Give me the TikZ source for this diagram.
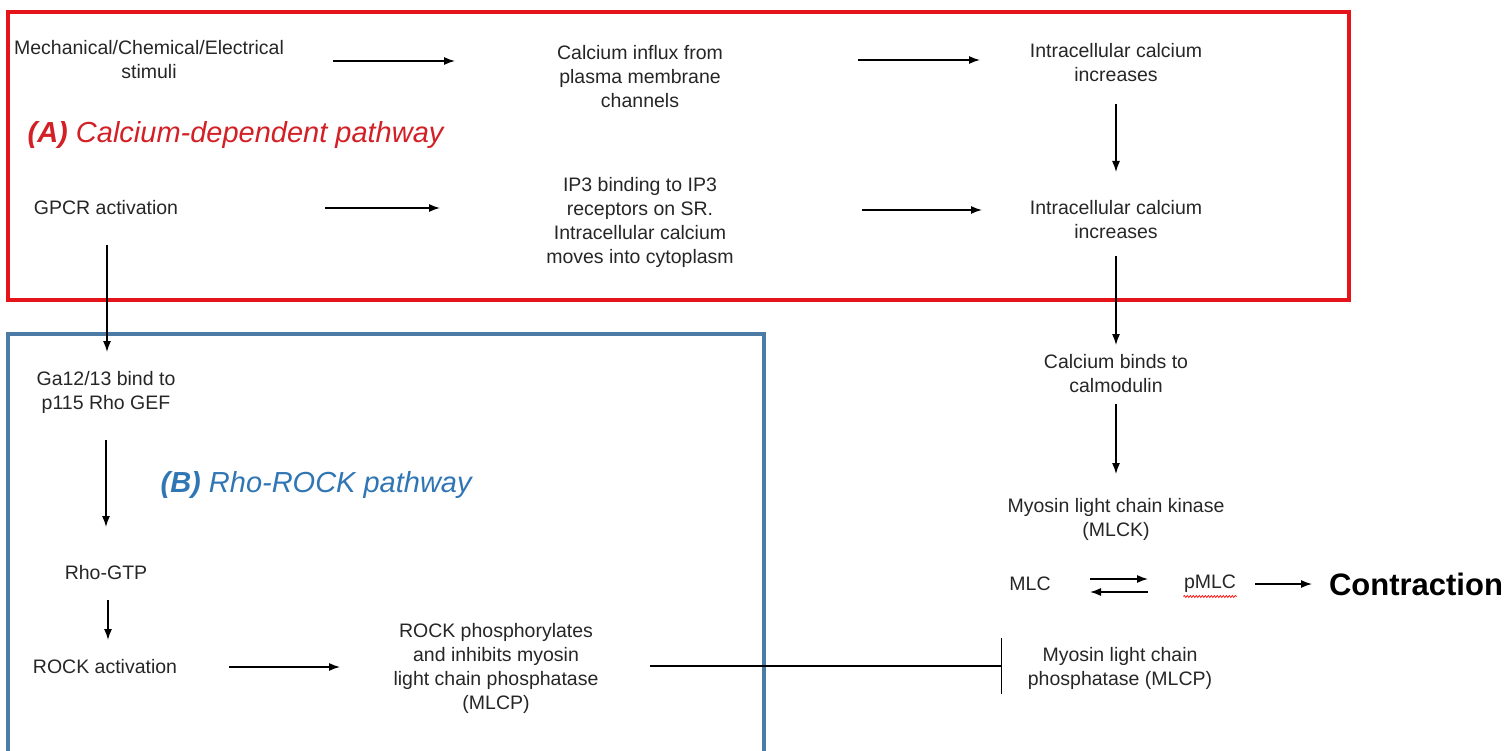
\documentclass[tikz,border=0pt]{standalone}
\usepackage{fontspec}
\setmainfont{Liberation Sans}
\usetikzlibrary{arrows.meta,calc,decorations.pathmorphing}

\definecolor{boxred}{RGB}{228,20,26}
\definecolor{boxblue}{RGB}{76,124,166}
\definecolor{labred}{RGB}{210,32,38}
\definecolor{labblue}{RGB}{48,118,180}
\definecolor{txtgray}{RGB}{38,38,38}

\begin{document}
\begin{tikzpicture}[x=1pt,y=-1pt,line width=1.3pt]
    \tikzstyle{txt}=[align=center, inner sep=0pt, text=txtgray, font=\fontsize{19.5}{24}\selectfont]
    \tikzstyle{lab}=[anchor=west, inner sep=0pt, font=\fontsize{29}{34}\selectfont\itshape]
    \tikzstyle{flow}=[-{Latex[length=11pt,width=8pt]}, black]
    \tikzstyle{frame}=[line width=3.5pt]

    \useasboundingbox (0,0) rectangle (1507,751);

    % pathway frames
    \draw[frame, boxred] (8,12) rectangle (1349,300);
    \draw[frame, boxblue] (8,751) -- (8,334) -- (764,334) -- (764,751);

    % calcium-dependent pathway
    \node[txt] (mech)   at (149,60)  {Mechanical/Chemical/Electrical\\stimuli};
    \node[txt] (influx) at (640,77)  {Calcium influx from\\plasma membrane\\channels};
    \node[txt] (inc1)   at (1116,63) {Intracellular calcium\\increases};
    \node[txt] (gpcr)   at (106,208) {GPCR activation};
    \node[txt] (ip3)    at (640,222) {IP3 binding to IP3\\receptors on SR.\\Intracellular calcium\\moves into cytoplasm};
    \node[txt] (inc2)   at (1116,220) {Intracellular calcium\\increases};
    \node[txt] (cam)    at (1116,374) {Calcium binds to\\calmodulin};
    \node[txt] (mlck)   at (1116,519) {Myosin light chain kinase\\(MLCK)};
    \node[txt] (mlc)    at (1030,584) {MLC};
    \node[txt] (pmlc)   at (1210,584) {pMLC};
    \node[txt, font=\fontsize{31}{34}\selectfont\bfseries, text=black] (contr) at (1416,584) {Contraction};
    \node[txt] (mlcp)   at (1120,668) {Myosin light chain\\phosphatase (MLCP)};

    % Rho-ROCK pathway
    \node[txt] (ga)     at (106,392) {Ga12/13 bind to\\p115 Rho GEF};
    \node[txt] (rhogtp) at (106,573) {Rho-GTP};
    \node[txt] (rocka)  at (105,667) {ROCK activation};
    \node[txt] (rockp)  at (496,668) {ROCK phosphorylates\\and inhibits myosin\\light chain phosphatase\\(MLCP)};

    \node[lab, text=labred]  (labA) at (27,135)  {\textbf{(A)} Calcium-dependent pathway};
    \node[lab, text=labblue] (labB) at (160,485) {\textbf{(B)} Rho-ROCK pathway};

    % connectors
    \draw[flow] ($(mech)+(184,1)$) -- ($(influx)+(-185,-16)$);
    \draw[flow] ($(influx)+(218,-17)$) -- ($(inc1)+(-136,-3)$);
    \draw[flow] ($(inc1)+(0,41)$) -- ($(inc2)+(0,-48)$);
    \draw[flow] ($(gpcr)+(219,0)$) -- ($(ip3)+(-200,-14)$);
    \draw[flow] ($(ip3)+(222,-12)$) -- ($(inc2)+(-134,-10)$);
    \draw[flow] ($(inc2)+(0,36)$) -- ($(cam)+(0,-29)$);
    \draw[flow] ($(cam)+(0,30)$) -- ($(mlck)+(0,-45)$);
    \draw[flow] ($(mlc)+(60,-5)$) -- ($(pmlc)+(-62,-5)$);
    \draw[flow] ($(pmlc)+(-62,8)$) -- ($(mlc)+(60,8)$);
    \draw[flow] ($(pmlc)+(45,0)$) -- ($(contr)+(-104,0)$);
    \draw[flow] ($(gpcr)+(1,37)$) -- ($(ga)+(1,-40)$);
    \draw[flow] ($(ga)+(0,48)$) -- ($(rhogtp)+(0,-46)$);
    \draw[flow] ($(rhogtp)+(2,27)$) -- ($(rocka)+(3,-27)$);
    \draw[flow] ($(rocka)+(124,0)$) -- ($(rockp)+(-156,-1)$);
    \draw[-{Bar[width=56pt,line width=1.3pt]}] ($(rockp)+(154,-2)$) -- ($(mlcp)+(-118,-2)$);

    % spell-check squiggle
    \draw[red, line width=0.7pt, decorate, decoration={snake, amplitude=1pt, segment length=3pt}]
      ($(pmlc.south west)+(0,3)$) -- ($(pmlc.south east)+(0,3)$);
\end{tikzpicture}
\end{document}
